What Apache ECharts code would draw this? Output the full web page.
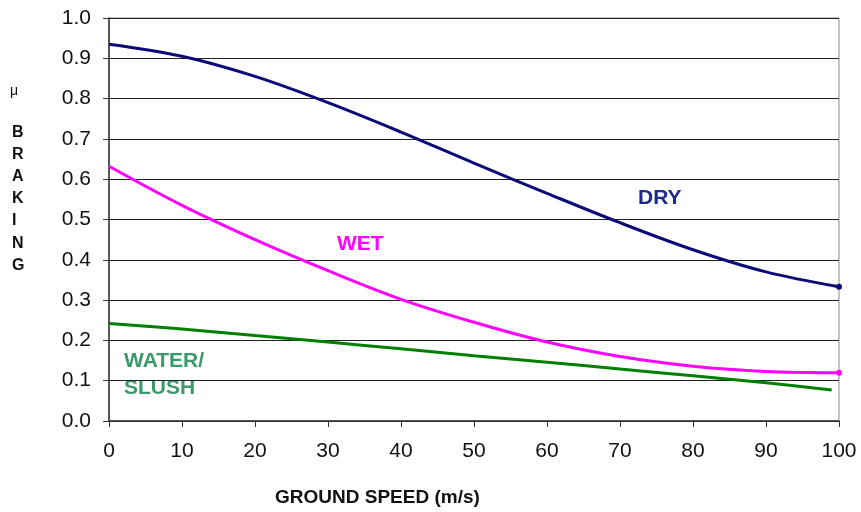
<!DOCTYPE html>
<html>
<head>
<meta charset="utf-8">
<script src="https://cdn.jsdelivr.net/npm/echarts@6/dist/echarts.min.js"></script>
<style>
  html, body { margin: 0; padding: 0; background: #fff; }
  #chart { width: 861px; height: 512px; }
</style>
</head>
<body>
<div id="chart"></div>
<script>
  // ground speed (m/s) vs braking coefficient
  const speedDry = [0, 10, 20, 30, 40, 50, 60, 70, 80, 90, 100]
  const dryValues = [0.935, 0.905, 0.855, 0.79, 0.717, 0.64, 0.565, 0.492, 0.425, 0.37, 0.333]
  const speedWet = [0, 10, 20, 30, 40, 50, 60, 70, 80, 90, 100]
  const wetValues = [0.632, 0.535, 0.45, 0.373, 0.302, 0.245, 0.196, 0.16, 0.136, 0.123, 0.12]
  const speedSlush = [0, 10, 20, 30, 40, 50, 60, 70, 80, 90, 99]
  const slushValues = [0.242, 0.228, 0.212, 0.196, 0.179, 0.162, 0.146, 0.129, 0.112, 0.095, 0.077]

  const pair = (xs, ys) => xs.map((x, i) => [x, ys[i]])
  const font = 'Liberation Sans, Arial, sans-serif'

  const chart = echarts.init(document.getElementById('chart'))
  chart.setOption({
    animation: false,
    grid: {
      left: 109, right: 22, top: 18, bottom: 91,
      show: true, borderColor: '#8c8c8c', borderWidth: 1
    },
    xAxis: {
      type: 'value', min: 0, max: 100, interval: 10,
      axisLine: { show: true, onZero: false, lineStyle: { color: '#333', width: 1.5 } },
      axisTick: { show: true, length: 6, lineStyle: { color: '#333' } },
      axisLabel: { color: '#111', fontSize: 21, fontFamily: font, margin: 20 },
      splitLine: { show: false }
    },
    yAxis: {
      type: 'value', min: 0, max: 1, interval: 0.1,
      axisLine: { show: true, lineStyle: { color: '#333', width: 1.5 } },
      axisTick: { show: true, length: 6, lineStyle: { color: '#333' } },
      axisLabel: {
        color: '#111', fontSize: 21, fontFamily: font, margin: 18,
        formatter: v => v.toFixed(1)
      },
      splitLine: { show: true, lineStyle: { color: '#222', width: 1 } }
    },
    series: [
      {
        name: 'DRY', type: 'line', smooth: 0.35,
        data: pair(speedDry, dryValues),
        lineStyle: { color: '#0a0a78', width: 3 },
        symbol: 'none',
        markPoint: {
          symbol: 'circle', symbolSize: 6, itemStyle: { color: '#0a0a78' },
          label: { show: false },
          data: [{ coord: [100, dryValues[dryValues.length - 1]] }]
        }
      },
      {
        name: 'WET', type: 'line', smooth: 0.35,
        data: pair(speedWet, wetValues),
        lineStyle: { color: '#ff00ff', width: 3 },
        symbol: 'none',
        markPoint: {
          symbol: 'circle', symbolSize: 6, itemStyle: { color: '#ff00ff' },
          label: { show: false },
          data: [{ coord: [100, wetValues[wetValues.length - 1]] }]
        }
      },
      {
        name: 'WATER/SLUSH', type: 'line', smooth: 0.35,
        data: pair(speedSlush, slushValues),
        lineStyle: { color: '#008000', width: 3 },
        symbol: 'none'
      }
    ],
    graphic: [
      { type: 'text', left: 638, top: 188, style: { text: 'DRY', fill: '#1f2a8c', font: 'bold 21px ' + font } },
      { type: 'text', left: 337, top: 234, style: { text: 'WET', fill: '#ff00ff', font: 'bold 21px ' + font } },
      { type: 'text', left: 124, top: 348, style: { text: 'WATER/\nSLUSH', fill: '#3a9a6a', font: 'bold 21px ' + font, lineHeight: 27 } },
      { type: 'text', left: 10, top: 84, style: { text: 'μ', fill: '#111', font: '14px ' + font } },
      {
        type: 'text', left: 12, top: 121,
        style: { text: 'B\nR\nA\nK\nI\nN\nG', fill: '#111', font: 'bold 16px ' + font, lineHeight: 22.2, align: 'left' }
      },
      { type: 'text', left: 275, top: 488, style: { text: 'GROUND SPEED (m/s)', fill: '#111', font: 'bold 19px ' + font } }
    ]
  })
</script>
</body>
</html>
